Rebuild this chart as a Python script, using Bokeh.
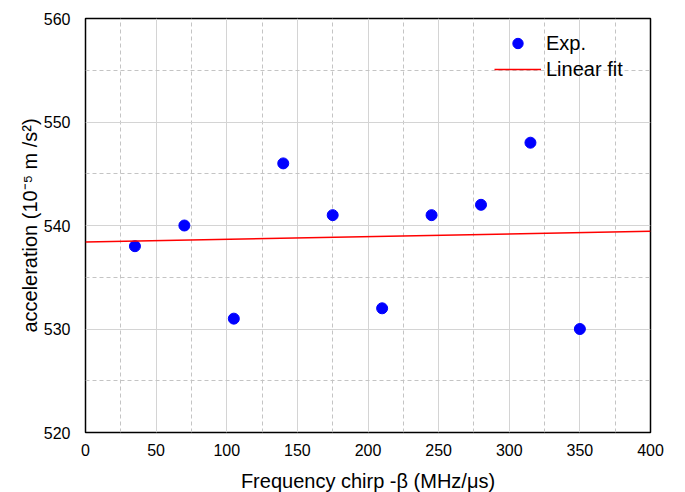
import numpy as np
from bokeh.plotting import figure
from bokeh.models import Range1d, FixedTicker, Legend, LegendItem
from bokeh.embed import file_html
from bokeh.resources import INLINE

# Data
chirp = [35, 70, 105, 140, 175, 210, 245, 280, 315, 350]
accel = [538, 540, 531, 546, 541, 532, 541, 542, 548, 530]

x_ticks = [0, 50, 100, 150, 200, 250, 300, 350, 400]
x_minor = [25, 75, 125, 175, 225, 275, 325, 375]
y_ticks = [520, 530, 540, 550, 560]
y_minor = [525, 535, 545, 555]

slope, intercept = np.polyfit(chirp, accel, 1)
fit_x = [0, 400]
fit_y = [intercept + slope * v for v in fit_x]

FONT = "Liberation Sans"

p = figure(frame_width=565, frame_height=414, output_backend="svg", toolbar_location=None,
           x_range=Range1d(0, 400), y_range=Range1d(520, 560),
           min_border_left=85, min_border_right=35, min_border_top=18, min_border_bottom=60)

p.xaxis.ticker = FixedTicker(ticks=x_ticks, minor_ticks=x_minor)
p.yaxis.ticker = FixedTicker(ticks=y_ticks, minor_ticks=y_minor)

for ax in (p.xaxis, p.yaxis):
    ax.axis_line_color = None
    ax.major_tick_line_color = None
    ax.minor_tick_line_color = None
    ax.major_label_text_font = FONT
    ax.major_label_text_font_size = "16px"
    ax.major_label_text_color = "black"
    ax.axis_label_text_font = FONT
    ax.axis_label_text_font_size = "20px"
    ax.axis_label_text_font_style = "normal"
    ax.axis_label_text_color = "black"

p.xaxis.axis_label = "Frequency chirp -β (MHz/μs)"
p.yaxis.axis_label = "acceleration (10⁻⁵ m /s²)"
p.xaxis.major_label_standoff = 5
p.yaxis.major_label_standoff = 9
p.xaxis.axis_label_standoff = 11
p.yaxis.axis_label_standoff = 0

for g in (p.xgrid, p.ygrid):
    g.grid_line_color = "#d4d4d4"
    g.grid_line_width = 1
    g.minor_grid_line_color = "#c4c4c4"
    g.minor_grid_line_dash = "4 3"
    g.minor_grid_line_width = 1

p.outline_line_color = "black"
p.outline_line_width = 1.5
p.outline_line_alpha = 1

r_pts = p.scatter(chirp, accel, size=11, color="#0000ff", line_color="#0000ff")
r_fit = p.line(fit_x, fit_y, line_color="#ff0000", line_width=1.5)

legend = Legend(items=[LegendItem(label="Exp.", renderers=[r_pts]),
                       LegendItem(label="Linear fit", renderers=[r_fit])],
                location=(409, 350))
legend.border_line_color = None
legend.background_fill_alpha = 0
legend.padding = 0
legend.margin = 0
legend.spacing = 0
legend.glyph_width = 47
legend.glyph_height = 26
legend.label_height = 20
legend.label_standoff = 5
legend.label_text_font = FONT
legend.label_text_font_size = "20px"
legend.label_text_color = "black"
p.add_layout(legend, "center")

open("out.html", "w").write(file_html(p, INLINE))
